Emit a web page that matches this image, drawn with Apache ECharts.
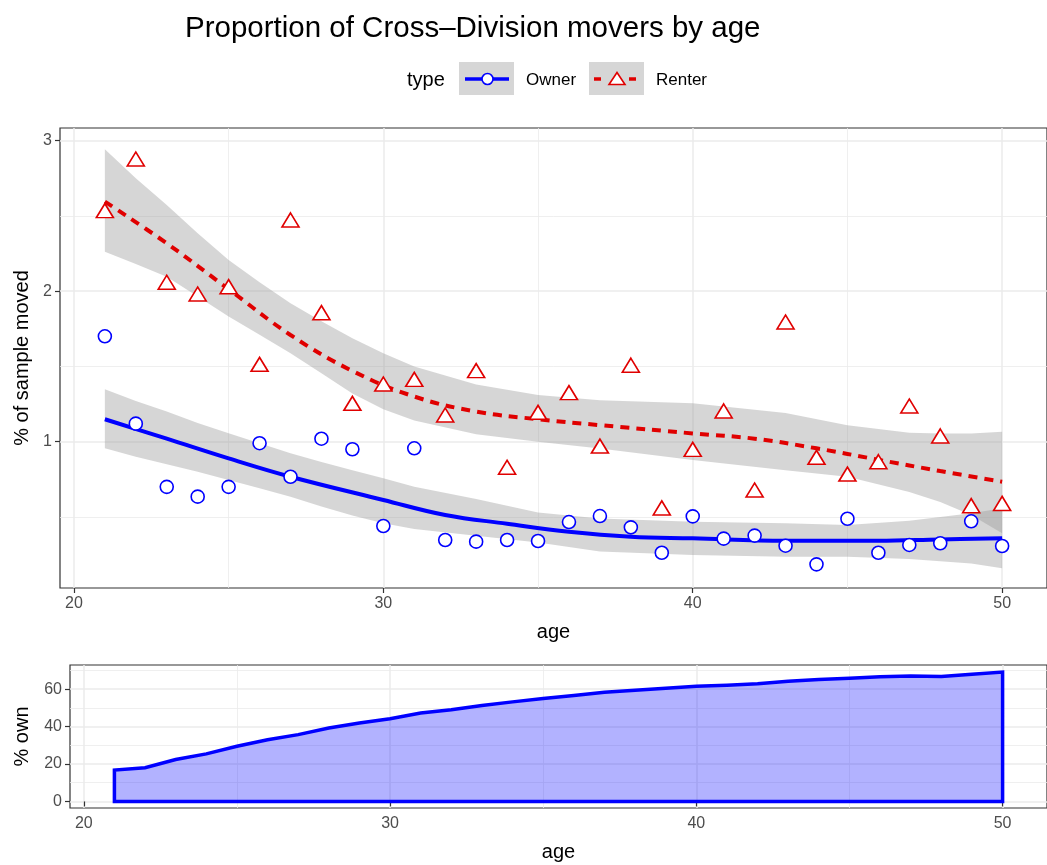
<!DOCTYPE html>
<html>
<head>
<meta charset="utf-8">
<title>Proportion of Cross-Division movers by age</title>
<script src="https://cdn.jsdelivr.net/npm/echarts@6.0.0/dist/echarts.min.js"></script>
<style>
  html, body { margin: 0; padding: 0; background: #fff; }
  #chart { width: 1047px; height: 865px; }
</style>
</head>
<body>
<div id="chart"></div>
<script>
const ages = [21, 22, 23, 24, 25, 26, 27, 28, 29, 30, 31, 32, 33, 34, 35,
  36, 37, 38, 39, 40, 41, 42, 43, 44, 45, 46, 47, 48, 49, 50]

// % of sample moved
const ownerMoved = [1.70, 1.12, 0.70, 0.635, 0.70, 0.99, 0.767, 1.02, 0.95, 0.44,
  0.956, 0.347, 0.336, 0.347, 0.34, 0.466, 0.506, 0.431, 0.262, 0.504,
  0.356, 0.376, 0.309, 0.185, 0.488, 0.262, 0.314, 0.325, 0.471, 0.307]
const renterMoved = [2.535, 2.878, 2.059, 1.981, 2.03, 1.514, 2.473, 1.857, 1.255, 1.383,
  1.414, 1.177, 1.472, 0.83, 1.195, 1.326, 0.971, 1.508, 0.56, 0.949,
  1.204, 0.679, 1.795, 0.896, 0.785, 0.867, 1.237, 1.038, 0.575, 0.59]

// smoothed fits
const renterFitAge = [21, 23, 25, 27, 29, 31, 33, 35, 37, 40, 42, 44, 46, 48, 50]
const renterFit = [2.595, 2.318, 2.013, 1.709, 1.47, 1.30, 1.20, 1.149, 1.11, 1.055, 1.02, 0.956, 0.88, 0.805, 0.734]
const ownerFitAge = [21, 23, 25, 27, 30, 32, 34, 36, 38, 40, 43, 46, 48, 50]
const ownerFit = [1.149, 1.02, 0.889, 0.767, 0.613, 0.513, 0.455, 0.402, 0.369, 0.358, 0.342, 0.342, 0.351, 0.358]

// confidence bands
const bandAge = [21, 22, 23, 24, 25, 26, 27, 28, 29, 30, 31, 33, 35, 37, 40, 43, 45, 47, 48, 49, 50]
const renterLo = [2.262, 2.18, 2.096, 1.965, 1.831, 1.71, 1.587, 1.455, 1.32, 1.215, 1.14, 1.05, 1.00, 0.955, 0.878, 0.81, 0.767, 0.665, 0.60, 0.513, 0.391]
const renterHi = [2.943, 2.75, 2.573, 2.385, 2.207, 2.06, 1.92, 1.80, 1.687, 1.587, 1.50, 1.38, 1.31, 1.275, 1.255, 1.19, 1.11, 1.06, 1.055, 1.055, 1.066]
const ownerLo = [0.956, 0.90, 0.85, 0.80, 0.745, 0.69, 0.635, 0.57, 0.51, 0.458, 0.42, 0.375, 0.33, 0.27, 0.247, 0.236, 0.236, 0.22, 0.205, 0.19, 0.159]
const ownerHi = [1.348, 1.27, 1.20, 1.125, 1.056, 0.99, 0.923, 0.865, 0.81, 0.757, 0.70, 0.62, 0.53, 0.49, 0.468, 0.458, 0.447, 0.475, 0.50, 0.524, 0.557]

// % own by age (lower panel)
const ownPct = [16.8, 18.0, 22.4, 25.4, 29.5, 33.0, 35.7, 39.2, 41.9, 44.2,
  47.2, 49.0, 51.3, 53.2, 55.0, 56.6, 58.4, 59.4, 60.5, 61.5,
  62.1, 62.9, 64.2, 65.2, 65.8, 66.6, 67.0, 66.8, 68.0, 69.1]

const ageTicks = [20, 30, 40, 50]
const movedTicks = [1, 2, 3]
const ownTicks = [0, 20, 40, 60]

const FONT = '"Liberation Sans", Arial, Helvetica, sans-serif'
const BLUE = '#0000ff'
const RED = '#e00000'
const BAND = 'rgba(153,153,153,0.4)'

function pairs(xs, ys) {
  return xs.map((x, i) => [x, ys[i]])
}

function axisBits(ticks) {
  return {
    axisLine: { show: false },
    axisTick: { show: true, length: 5, lineStyle: { color: '#333', width: 1.2 }, customValues: ticks },
    axisLabel: { customValues: ticks, fontSize: 16, color: '#4d4d4d', fontFamily: FONT },
    splitLine: { show: true, lineStyle: { color: '#ebebeb', width: 1.5 } },
    minorTick: { show: false, splitNumber: 2 },
    minorSplitLine: { show: true, lineStyle: { color: '#ebebeb', width: 0.8 } }
  }
}

// ribbon polygon: along the upper edge, back along the lower edge
function band(lo, hi) {
  return {
    type: 'custom', xAxisIndex: 0, yAxisIndex: 0, z: 2, silent: true,
    data: [[bandAge[0], lo[0]]],
    renderItem: function (params, api) {
      const pts = []
      bandAge.forEach((a, i) => pts.push(api.coord([a, hi[i]])))
      for (let i = bandAge.length - 1; i >= 0; i--) pts.push(api.coord([bandAge[i], lo[i]]))
      return { type: 'polygon', shape: { points: pts }, style: { fill: BAND } }
    }
  }
}

const chart = echarts.init(document.getElementById('chart'))

const option = {
  animation: false,
  backgroundColor: '#fff',
  title: {
    text: 'Proportion of Cross–Division movers by age',
    left: 180,
    top: 9,
    textStyle: { fontSize: 29.5, fontWeight: 'normal', color: '#000', fontFamily: FONT }
  },
  grid: [
    { left: 60, top: 128, width: 996, height: 460, show: true, borderColor: '#333', borderWidth: 1.2 },
    { left: 70, top: 665, width: 986, height: 143, show: true, borderColor: '#333', borderWidth: 1.2 }
  ],
  xAxis: [
    Object.assign({
      gridIndex: 0, type: 'value', min: 19.55, max: 51.45, splitNumber: 3,
      name: 'age', nameLocation: 'middle', nameGap: 34,
      nameTextStyle: { fontSize: 20, color: '#000', fontFamily: FONT }
    }, axisBits(ageTicks)),
    Object.assign({
      gridIndex: 1, type: 'value', min: 19.55, max: 51.45, splitNumber: 3,
      name: 'age', nameLocation: 'middle', nameGap: 34,
      nameTextStyle: { fontSize: 20, color: '#000', fontFamily: FONT }
    }, axisBits(ageTicks))
  ],
  yAxis: [
    Object.assign({
      gridIndex: 0, type: 'value', min: 0.028, max: 3.084, splitNumber: 3,
      name: '% of sample moved', nameLocation: 'middle', nameGap: 28, nameRotate: 90,
      nameTextStyle: { fontSize: 20, color: '#000', fontFamily: FONT }
    }, axisBits(movedTicks)),
    Object.assign({
      gridIndex: 1, type: 'value', min: -3.5, max: 72.9, splitNumber: 4,
      name: '% own', nameLocation: 'middle', nameGap: 38, nameRotate: 90,
      nameTextStyle: { fontSize: 20, color: '#000', fontFamily: FONT }
    }, axisBits(ownTicks))
  ],
  graphic: [
    { type: 'text', x: 407, y: 80, style: { text: 'type', fontSize: 20, fontFamily: FONT, fill: '#000', verticalAlign: 'middle' } },
    { type: 'rect', shape: { x: 459, y: 62, width: 55, height: 33 }, style: { fill: '#d6d6d6' } },
    { type: 'line', shape: { x1: 465, y1: 79, x2: 509, y2: 79 }, style: { stroke: BLUE, lineWidth: 3.5 } },
    { type: 'circle', shape: { cx: 487.5, cy: 79, r: 5.5 }, style: { fill: '#fff', stroke: BLUE, lineWidth: 1.6 } },
    { type: 'text', x: 526, y: 80, style: { text: 'Owner', fontSize: 17, fontFamily: FONT, fill: '#000', verticalAlign: 'middle' } },
    { type: 'rect', shape: { x: 589, y: 62, width: 55, height: 33 }, style: { fill: '#d6d6d6' } },
    { type: 'line', shape: { x1: 594, y1: 79, x2: 601, y2: 79 }, style: { stroke: RED, lineWidth: 3.5 } },
    { type: 'line', shape: { x1: 629, y1: 79, x2: 636, y2: 79 }, style: { stroke: RED, lineWidth: 3.5 } },
    { type: 'polygon', shape: { points: [[617, 72.5], [609, 84.5], [625, 84.5]] }, style: { fill: '#fff', stroke: RED, lineWidth: 1.6 } },
    { type: 'text', x: 656, y: 80, style: { text: 'Renter', fontSize: 17, fontFamily: FONT, fill: '#000', verticalAlign: 'middle' } }
  ],
  series: [
    band(ownerLo, ownerHi),
    band(renterLo, renterHi),
    {
      type: 'line', name: 'Owner fit', smooth: 0.4, showSymbol: false, z: 3,
      data: pairs(ownerFitAge, ownerFit),
      lineStyle: { color: BLUE, width: 4 }
    },
    {
      type: 'line', name: 'Renter fit', smooth: 0.4, showSymbol: false, z: 3,
      data: pairs(renterFitAge, renterFit),
      lineStyle: { color: RED, width: 4, type: [9, 7] }
    },
    {
      type: 'scatter', name: 'Owner', z: 4,
      data: pairs(ages, ownerMoved),
      symbol: 'circle', symbolSize: 13,
      itemStyle: { color: '#fff', borderColor: BLUE, borderWidth: 1.6, opacity: 1 }
    },
    {
      type: 'scatter', name: 'Renter', z: 4,
      data: pairs(ages, renterMoved),
      symbol: 'triangle', symbolSize: [17, 14],
      itemStyle: { color: '#fff', borderColor: RED, borderWidth: 1.6, opacity: 1 }
    },
    {
      type: 'custom', name: '% own', xAxisIndex: 1, yAxisIndex: 1, z: 2,
      data: [[ages[0], ownPct[0]]],
      renderItem: function (params, api) {
        const pts = [api.coord([ages[0], 0])]
        ages.forEach((a, i) => pts.push(api.coord([a, ownPct[i]])))
        pts.push(api.coord([ages[ages.length - 1], 0]))
        return {
          type: 'polygon',
          shape: { points: pts },
          style: { fill: 'rgba(0,0,255,0.3)', stroke: BLUE, lineWidth: 3.5 }
        }
      }
    }
  ]
}

chart.setOption(option)
</script>
</body>
</html>
